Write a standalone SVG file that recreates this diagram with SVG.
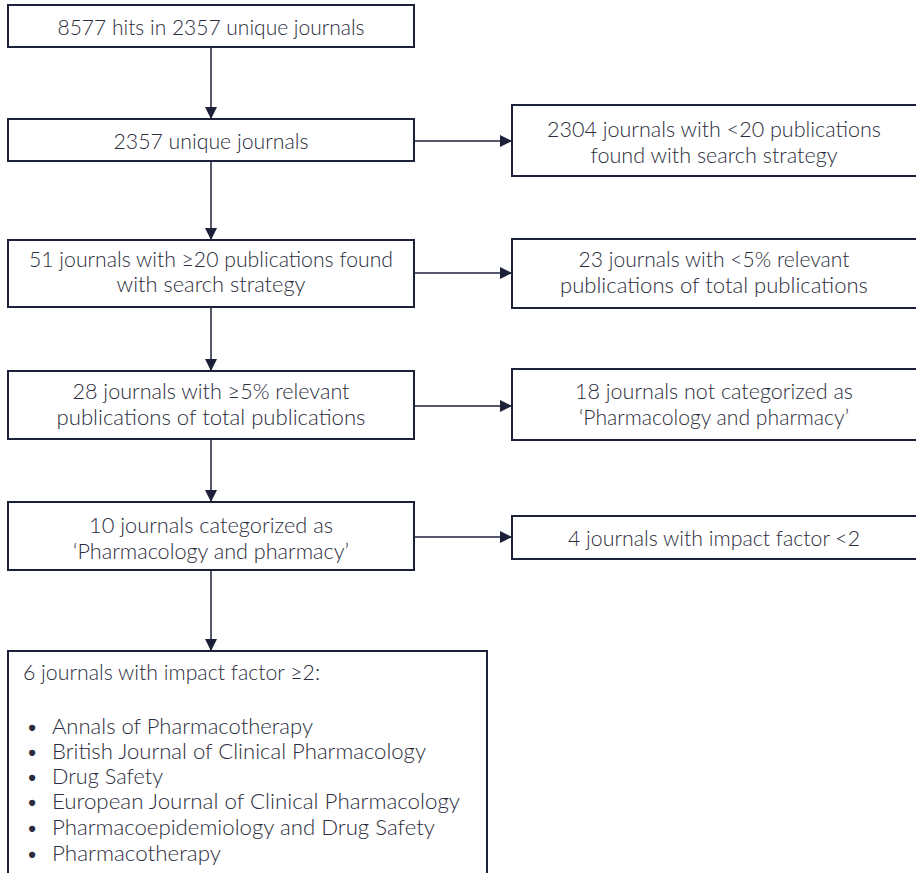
<svg xmlns="http://www.w3.org/2000/svg" width="916" height="873" viewBox="0 0 916 873">
<style>
.box{fill:#ffffff;stroke:#1c2038;stroke-width:2}
.lbl{font-family:Lato,"Noto Sans","Liberation Sans",sans-serif;font-weight:300;font-size:21px;fill:#2b2d3c}
.c{text-anchor:middle}
.edge{fill:none;stroke:#1c2038;stroke-width:1.5}
</style>
<defs>
<marker id="ah" markerUnits="userSpaceOnUse" markerWidth="12" markerHeight="12" refX="12" refY="6" orient="auto">
<path d="M0,0 L12,6 L0,12 z" fill="#1c2038"/>
</marker>
</defs>
<rect width="916" height="873" fill="#ffffff"/>
<g id="connectors">
<line class="edge" x1="211" y1="47" x2="211" y2="119" marker-end="url(#ah)"/>
<line class="edge" x1="211" y1="161" x2="211" y2="240" marker-end="url(#ah)"/>
<line class="edge" x1="211" y1="307" x2="211" y2="371" marker-end="url(#ah)"/>
<line class="edge" x1="211" y1="439" x2="211" y2="502" marker-end="url(#ah)"/>
<line class="edge" x1="211" y1="570" x2="211" y2="651" marker-end="url(#ah)"/>
<line class="edge" x1="414" y1="141" x2="512" y2="141" marker-end="url(#ah)"/>
<line class="edge" x1="414" y1="273" x2="512" y2="273" marker-end="url(#ah)"/>
<line class="edge" x1="414" y1="406" x2="512" y2="406" marker-end="url(#ah)"/>
<line class="edge" x1="414" y1="537" x2="512" y2="537" marker-end="url(#ah)"/>
</g>
<g id="n1">
<rect class="box" x="8" y="5" width="406" height="42"/>
<text class="lbl c" x="211" y="35" textLength="307" lengthAdjust="spacingAndGlyphs">8577 hits in 2357 unique journals</text>
</g>
<g id="n2">
<rect class="box" x="8" y="119" width="406" height="42"/>
<text class="lbl c" x="211" y="149" textLength="195" lengthAdjust="spacingAndGlyphs">2357 unique journals</text>
</g>
<g id="n3">
<rect class="box" x="512" y="105" width="406" height="71"/>
<text class="lbl c" x="714" y="137" textLength="334" lengthAdjust="spacingAndGlyphs">2304 journals with &lt;20 publications</text>
<text class="lbl c" x="714" y="163" textLength="247" lengthAdjust="spacingAndGlyphs">found with search strategy</text>
</g>
<g id="n4">
<rect class="box" x="8" y="240" width="406" height="67"/>
<text class="lbl c" x="211" y="267" textLength="364" lengthAdjust="spacingAndGlyphs">51 journals with ≥20 publications found</text>
<text class="lbl c" x="211" y="292" textLength="189" lengthAdjust="spacingAndGlyphs">with search strategy</text>
</g>
<g id="n5">
<rect class="box" x="512" y="239" width="406" height="69"/>
<text class="lbl c" x="714" y="267" textLength="271" lengthAdjust="spacingAndGlyphs">23 journals with &lt;5% relevant</text>
<text class="lbl c" x="714" y="293" textLength="308" lengthAdjust="spacingAndGlyphs">publications of total publications</text>
</g>
<g id="n6">
<rect class="box" x="8" y="371" width="406" height="68"/>
<text class="lbl c" x="211" y="399" textLength="277" lengthAdjust="spacingAndGlyphs">28 journals with ≥5% relevant</text>
<text class="lbl c" x="211" y="425" textLength="309" lengthAdjust="spacingAndGlyphs">publications of total publications</text>
</g>
<g id="n7">
<rect class="box" x="512" y="369" width="406" height="71"/>
<text class="lbl c" x="714" y="399" textLength="278" lengthAdjust="spacingAndGlyphs">18 journals not categorized as</text>
<text class="lbl c" x="714" y="425" textLength="270" lengthAdjust="spacingAndGlyphs">‘Pharmacology and pharmacy’</text>
</g>
<g id="n8">
<rect class="box" x="8" y="502" width="406" height="68"/>
<text class="lbl c" x="211" y="533" textLength="244" lengthAdjust="spacingAndGlyphs">10 journals categorized as</text>
<text class="lbl c" x="211" y="559" textLength="276" lengthAdjust="spacingAndGlyphs">‘Pharmacology and pharmacy’</text>
</g>
<g id="n9">
<rect class="box" x="512" y="516" width="406" height="43"/>
<text class="lbl c" x="714" y="546" textLength="292" lengthAdjust="spacingAndGlyphs">4 journals with impact factor &lt;2</text>
</g>
<g id="n10">
<rect class="box" x="8" y="651" width="479" height="240"/>
<text class="lbl" x="23" y="680" textLength="297" lengthAdjust="spacingAndGlyphs">6 journals with impact factor ≥2:</text>
<text class="lbl" x="26" y="734">•</text><text class="lbl" x="52" y="734" textLength="261" lengthAdjust="spacingAndGlyphs">Annals of Pharmacotherapy</text>
<text class="lbl" x="26" y="759">•</text><text class="lbl" x="52" y="759" textLength="374" lengthAdjust="spacingAndGlyphs">British Journal of Clinical Pharmacology</text>
<text class="lbl" x="26" y="784">•</text><text class="lbl" x="52" y="784" textLength="111" lengthAdjust="spacingAndGlyphs">Drug Safety</text>
<text class="lbl" x="26" y="809">•</text><text class="lbl" x="52" y="809" textLength="408" lengthAdjust="spacingAndGlyphs">European Journal of Clinical Pharmacology</text>
<text class="lbl" x="26" y="835">•</text><text class="lbl" x="52" y="835" textLength="383" lengthAdjust="spacingAndGlyphs">Pharmacoepidemiology and Drug Safety</text>
<text class="lbl" x="26" y="861">•</text><text class="lbl" x="52" y="861" textLength="169" lengthAdjust="spacingAndGlyphs">Pharmacotherapy</text>
</g>
</svg>
